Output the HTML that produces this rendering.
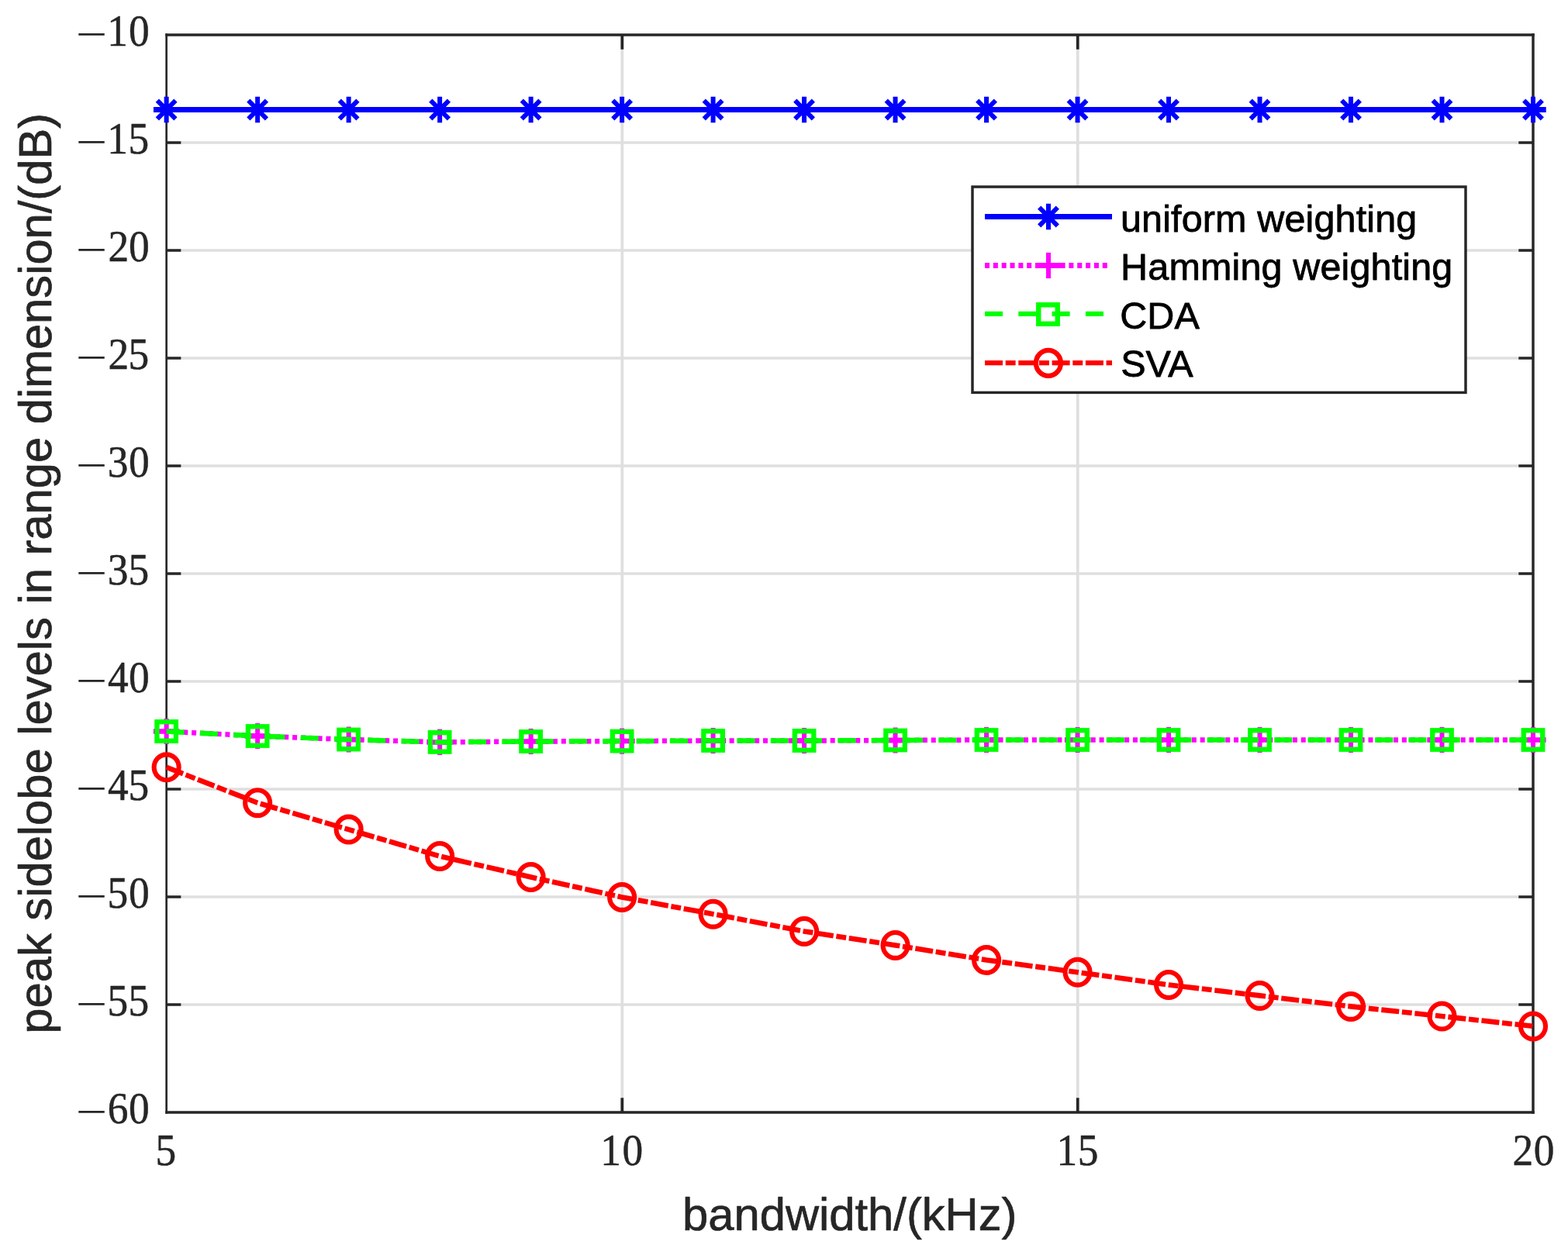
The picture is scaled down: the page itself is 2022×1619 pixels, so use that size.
<!DOCTYPE html>
<html lang="en"><head><meta charset="utf-8">
<style>
html,body{margin:0;padding:0;background:#fff;}
body{width:2022px;height:1619px;overflow:hidden;}
svg{display:block;}
.tk{font-family:"Liberation Serif","DejaVu Serif",serif;font-size:56.30px;fill:#262626;stroke:#262626;stroke-width:0.5px;stroke-linejoin:round;}
.mn{stroke-width:0;}
.lb{font-family:"Liberation Sans","DejaVu Sans",sans-serif;font-size:59.7px;fill:#262626;stroke:#262626;stroke-width:0.7px;stroke-linejoin:round;}
.lg{font-family:"Liberation Sans","DejaVu Sans",sans-serif;font-size:48.5px;fill:#000;stroke:#000;stroke-width:0.8px;stroke-linejoin:round;}
</style></head><body>
<svg width="2022" height="1619" viewBox="0 0 2022 1619" role="img">
<rect x="0" y="0" width="2022" height="1619" fill="#ffffff"/>
<g stroke="#dfdfdf" stroke-width="3.45" fill="none">
<line x1="802.30" y1="45.00" x2="802.30" y2="1435.00" stroke-width="3.75"/>
<line x1="1389.75" y1="45.00" x2="1389.75" y2="1435.00" stroke-width="3.75"/>
<line x1="214.65" y1="1296.00" x2="1977.00" y2="1296.00"/>
<line x1="214.65" y1="1157.00" x2="1977.00" y2="1157.00"/>
<line x1="214.65" y1="1018.00" x2="1977.00" y2="1018.00"/>
<line x1="214.65" y1="879.00" x2="1977.00" y2="879.00"/>
<line x1="214.65" y1="740.00" x2="1977.00" y2="740.00"/>
<line x1="214.65" y1="601.00" x2="1977.00" y2="601.00"/>
<line x1="214.65" y1="462.00" x2="1977.00" y2="462.00"/>
<line x1="214.65" y1="323.00" x2="1977.00" y2="323.00"/>
<line x1="214.65" y1="184.00" x2="1977.00" y2="184.00"/>
</g>
<g stroke="#262626" stroke-width="3.45" fill="none" stroke-linecap="butt" stroke-linejoin="miter">
<line x1="213.33" y1="45.00" x2="1978.72" y2="45.00"/>
<line x1="213.33" y1="1435.00" x2="1978.72" y2="1435.00"/>
<line x1="1977.00" y1="43.27" x2="1977.00" y2="1436.72"/>
<line x1="214.65" y1="43.27" x2="214.65" y2="1436.72" stroke-width="2.65"/>
<line x1="802.30" y1="1435.00" x2="802.30" y2="1416.30" stroke-width="3.75"/>
<line x1="802.30" y1="45.00" x2="802.30" y2="63.70" stroke-width="3.75"/>
<line x1="1389.75" y1="1435.00" x2="1389.75" y2="1416.30" stroke-width="3.75"/>
<line x1="1389.75" y1="45.00" x2="1389.75" y2="63.70" stroke-width="3.75"/>
<line x1="214.65" y1="1296.00" x2="233.35" y2="1296.00"/>
<line x1="1977.00" y1="1296.00" x2="1958.30" y2="1296.00"/>
<line x1="214.65" y1="1157.00" x2="233.35" y2="1157.00"/>
<line x1="1977.00" y1="1157.00" x2="1958.30" y2="1157.00"/>
<line x1="214.65" y1="1018.00" x2="233.35" y2="1018.00"/>
<line x1="1977.00" y1="1018.00" x2="1958.30" y2="1018.00"/>
<line x1="214.65" y1="879.00" x2="233.35" y2="879.00"/>
<line x1="1977.00" y1="879.00" x2="1958.30" y2="879.00"/>
<line x1="214.65" y1="740.00" x2="233.35" y2="740.00"/>
<line x1="1977.00" y1="740.00" x2="1958.30" y2="740.00"/>
<line x1="214.65" y1="601.00" x2="233.35" y2="601.00"/>
<line x1="1977.00" y1="601.00" x2="1958.30" y2="601.00"/>
<line x1="214.65" y1="462.00" x2="233.35" y2="462.00"/>
<line x1="1977.00" y1="462.00" x2="1958.30" y2="462.00"/>
<line x1="214.65" y1="323.00" x2="233.35" y2="323.00"/>
<line x1="1977.00" y1="323.00" x2="1958.30" y2="323.00"/>
<line x1="214.65" y1="184.00" x2="233.35" y2="184.00"/>
<line x1="1977.00" y1="184.00" x2="1958.30" y2="184.00"/>
</g>
<g fill="none" stroke="#0000ff">
<polyline points="214.65,141.50 332.14,141.50 449.63,141.50 567.12,141.50 684.61,141.50 802.10,141.50 919.59,141.50 1037.08,141.50 1154.57,141.50 1272.06,141.50 1389.55,141.50 1507.04,141.50 1624.53,141.50 1742.02,141.50 1859.51,141.50 1977.00,141.50" stroke-width="6.90"/>
<path stroke-width="6.90" d="M197.95 141.50H231.35M315.44 141.50H348.84M432.93 141.50H466.33M550.42 141.50H583.82M667.91 141.50H701.31M785.40 141.50H818.80M902.89 141.50H936.29M1020.38 141.50H1053.78M1137.87 141.50H1171.27M1255.36 141.50H1288.76M1372.85 141.50H1406.25M1490.34 141.50H1523.74M1607.83 141.50H1641.23M1725.32 141.50H1758.72M1842.81 141.50H1876.21M1960.30 141.50H1993.70"/>
<path stroke-width="6.00" d="M214.65 124.80V158.20M202.84 129.69L226.46 153.31M202.84 153.31L226.46 129.69M332.14 124.80V158.20M320.33 129.69L343.95 153.31M320.33 153.31L343.95 129.69M449.63 124.80V158.20M437.82 129.69L461.44 153.31M437.82 153.31L461.44 129.69M567.12 124.80V158.20M555.31 129.69L578.93 153.31M555.31 153.31L578.93 129.69M684.61 124.80V158.20M672.80 129.69L696.42 153.31M672.80 153.31L696.42 129.69M802.10 124.80V158.20M790.29 129.69L813.91 153.31M790.29 153.31L813.91 129.69M919.59 124.80V158.20M907.78 129.69L931.40 153.31M907.78 153.31L931.40 129.69M1037.08 124.80V158.20M1025.27 129.69L1048.89 153.31M1025.27 153.31L1048.89 129.69M1154.57 124.80V158.20M1142.76 129.69L1166.38 153.31M1142.76 153.31L1166.38 129.69M1272.06 124.80V158.20M1260.25 129.69L1283.87 153.31M1260.25 153.31L1283.87 129.69M1389.55 124.80V158.20M1377.74 129.69L1401.36 153.31M1377.74 153.31L1401.36 129.69M1507.04 124.80V158.20M1495.23 129.69L1518.85 153.31M1495.23 153.31L1518.85 129.69M1624.53 124.80V158.20M1612.72 129.69L1636.34 153.31M1612.72 153.31L1636.34 129.69M1742.02 124.80V158.20M1730.21 129.69L1753.83 153.31M1730.21 153.31L1753.83 129.69M1859.51 124.80V158.20M1847.70 129.69L1871.32 153.31M1847.70 153.31L1871.32 129.69M1977.00 124.80V158.20M1965.19 129.69L1988.81 153.31M1965.19 153.31L1988.81 129.69"/>
</g>
<g fill="none" stroke="#ff00ff">
<polyline points="214.65,943.50 332.14,949.50 449.63,954.00 567.12,957.40 684.61,956.50 802.10,956.10 919.59,955.50 1037.08,955.50 1154.57,955.00 1272.06,954.50 1389.55,954.50 1507.04,954.50 1624.53,954.50 1742.02,954.50 1859.51,954.50 1977.00,954.50" stroke-width="6.50" stroke-dasharray="6 4.84"/>
<path stroke-width="6.50" d="M198.05 943.50H231.25M315.54 949.50H348.74M433.03 954.00H466.23M550.52 957.40H583.72M668.01 956.50H701.21M785.50 956.10H818.70M902.99 955.50H936.19M1020.48 955.50H1053.68M1137.97 955.00H1171.17M1255.46 954.50H1288.66M1372.95 954.50H1406.15M1490.44 954.50H1523.64M1607.93 954.50H1641.13M1725.42 954.50H1758.62M1842.91 954.50H1876.11M1960.40 954.50H1993.60"/>
<path stroke-width="6.00" d="M214.65 926.90V960.10M332.14 932.90V966.10M449.63 937.40V970.60M567.12 940.80V974.00M684.61 939.90V973.10M802.10 939.50V972.70M919.59 938.90V972.10M1037.08 938.90V972.10M1154.57 938.40V971.60M1272.06 937.90V971.10M1389.55 937.90V971.10M1507.04 937.90V971.10M1624.53 937.90V971.10M1742.02 937.90V971.10M1859.51 937.90V971.10M1977.00 937.90V971.10"/>
</g>
<g fill="none" stroke="#00ff00">
<polyline points="214.65,943.50 332.14,949.50 449.63,954.00 567.12,957.40 684.61,956.50 802.10,956.10 919.59,955.50 1037.08,955.50 1154.57,955.00 1272.06,954.50 1389.55,954.50 1507.04,954.50 1624.53,954.50 1742.02,954.50 1859.51,954.50 1977.00,954.50" stroke-width="6.50" stroke-dasharray="23 20.3"/>
<rect x="202.40" y="931.25" width="24.50" height="24.50" stroke-width="6.30"/>
<rect x="319.89" y="937.25" width="24.50" height="24.50" stroke-width="6.30"/>
<rect x="437.38" y="941.75" width="24.50" height="24.50" stroke-width="6.30"/>
<rect x="554.87" y="945.15" width="24.50" height="24.50" stroke-width="6.30"/>
<rect x="672.36" y="944.25" width="24.50" height="24.50" stroke-width="6.30"/>
<rect x="789.85" y="943.85" width="24.50" height="24.50" stroke-width="6.30"/>
<rect x="907.34" y="943.25" width="24.50" height="24.50" stroke-width="6.30"/>
<rect x="1024.83" y="943.25" width="24.50" height="24.50" stroke-width="6.30"/>
<rect x="1142.32" y="942.75" width="24.50" height="24.50" stroke-width="6.30"/>
<rect x="1259.81" y="942.25" width="24.50" height="24.50" stroke-width="6.30"/>
<rect x="1377.30" y="942.25" width="24.50" height="24.50" stroke-width="6.30"/>
<rect x="1494.79" y="942.25" width="24.50" height="24.50" stroke-width="6.30"/>
<rect x="1612.28" y="942.25" width="24.50" height="24.50" stroke-width="6.30"/>
<rect x="1729.77" y="942.25" width="24.50" height="24.50" stroke-width="6.30"/>
<rect x="1847.26" y="942.25" width="24.50" height="24.50" stroke-width="6.30"/>
<rect x="1964.75" y="942.25" width="24.50" height="24.50" stroke-width="6.30"/>
</g>
<g fill="none" stroke="#ff0000">
<polyline points="214.65,989.80 332.14,1035.70 449.63,1070.10 567.12,1104.50 684.61,1131.50 802.10,1157.40 919.59,1179.20 1037.08,1201.40 1154.57,1219.40 1272.06,1238.40 1389.55,1254.20 1507.04,1270.50 1624.53,1284.40 1742.02,1298.40 1859.51,1311.00 1977.00,1323.90" stroke-width="6.60" stroke-dasharray="23 3.7 12.9 3.7"/>
<ellipse cx="214.65" cy="989.80" rx="16.00" ry="16.45" stroke-width="6.10"/>
<ellipse cx="332.14" cy="1035.70" rx="16.00" ry="16.45" stroke-width="6.10"/>
<ellipse cx="449.63" cy="1070.10" rx="16.00" ry="16.45" stroke-width="6.10"/>
<ellipse cx="567.12" cy="1104.50" rx="16.00" ry="16.45" stroke-width="6.10"/>
<ellipse cx="684.61" cy="1131.50" rx="16.00" ry="16.45" stroke-width="6.10"/>
<ellipse cx="802.10" cy="1157.40" rx="16.00" ry="16.45" stroke-width="6.10"/>
<ellipse cx="919.59" cy="1179.20" rx="16.00" ry="16.45" stroke-width="6.10"/>
<ellipse cx="1037.08" cy="1201.40" rx="16.00" ry="16.45" stroke-width="6.10"/>
<ellipse cx="1154.57" cy="1219.40" rx="16.00" ry="16.45" stroke-width="6.10"/>
<ellipse cx="1272.06" cy="1238.40" rx="16.00" ry="16.45" stroke-width="6.10"/>
<ellipse cx="1389.55" cy="1254.20" rx="16.00" ry="16.45" stroke-width="6.10"/>
<ellipse cx="1507.04" cy="1270.50" rx="16.00" ry="16.45" stroke-width="6.10"/>
<ellipse cx="1624.53" cy="1284.40" rx="16.00" ry="16.45" stroke-width="6.10"/>
<ellipse cx="1742.02" cy="1298.40" rx="16.00" ry="16.45" stroke-width="6.10"/>
<ellipse cx="1859.51" cy="1311.00" rx="16.00" ry="16.45" stroke-width="6.10"/>
<ellipse cx="1977.00" cy="1323.90" rx="16.00" ry="16.45" stroke-width="6.10"/>
</g>
<g>
<text class="tk"><tspan class="mn" x="97.73" y="62.90" textLength="40.48" lengthAdjust="spacingAndGlyphs">−</tspan><tspan x="138.37" y="59.10" textLength="26.69" lengthAdjust="spacingAndGlyphs">1</tspan><tspan x="166.06" y="59.10" textLength="26.69" lengthAdjust="spacingAndGlyphs">0</tspan></text>
<text class="tk"><tspan class="mn" x="97.73" y="201.90" textLength="40.48" lengthAdjust="spacingAndGlyphs">−</tspan><tspan x="138.37" y="198.10" textLength="26.69" lengthAdjust="spacingAndGlyphs">1</tspan><tspan x="165.55" y="198.10" textLength="26.69" lengthAdjust="spacingAndGlyphs">5</tspan></text>
<text class="tk"><tspan class="mn" x="97.73" y="340.90" textLength="40.48" lengthAdjust="spacingAndGlyphs">−</tspan><tspan x="139.41" y="337.10" textLength="26.69" lengthAdjust="spacingAndGlyphs">2</tspan><tspan x="166.06" y="337.10" textLength="26.69" lengthAdjust="spacingAndGlyphs">0</tspan></text>
<text class="tk"><tspan class="mn" x="97.73" y="479.90" textLength="40.48" lengthAdjust="spacingAndGlyphs">−</tspan><tspan x="139.41" y="476.10" textLength="26.69" lengthAdjust="spacingAndGlyphs">2</tspan><tspan x="165.55" y="476.10" textLength="26.69" lengthAdjust="spacingAndGlyphs">5</tspan></text>
<text class="tk"><tspan class="mn" x="97.73" y="618.90" textLength="40.48" lengthAdjust="spacingAndGlyphs">−</tspan><tspan x="138.87" y="615.10" textLength="26.69" lengthAdjust="spacingAndGlyphs">3</tspan><tspan x="166.06" y="615.10" textLength="26.69" lengthAdjust="spacingAndGlyphs">0</tspan></text>
<text class="tk"><tspan class="mn" x="97.73" y="757.90" textLength="40.48" lengthAdjust="spacingAndGlyphs">−</tspan><tspan x="138.87" y="754.10" textLength="26.69" lengthAdjust="spacingAndGlyphs">3</tspan><tspan x="165.55" y="754.10" textLength="26.69" lengthAdjust="spacingAndGlyphs">5</tspan></text>
<text class="tk"><tspan class="mn" x="97.73" y="896.90" textLength="40.48" lengthAdjust="spacingAndGlyphs">−</tspan><tspan x="139.00" y="893.10" textLength="26.69" lengthAdjust="spacingAndGlyphs">4</tspan><tspan x="166.06" y="893.10" textLength="26.69" lengthAdjust="spacingAndGlyphs">0</tspan></text>
<text class="tk"><tspan class="mn" x="97.73" y="1035.90" textLength="40.48" lengthAdjust="spacingAndGlyphs">−</tspan><tspan x="139.00" y="1032.10" textLength="26.69" lengthAdjust="spacingAndGlyphs">4</tspan><tspan x="165.55" y="1032.10" textLength="26.69" lengthAdjust="spacingAndGlyphs">5</tspan></text>
<text class="tk"><tspan class="mn" x="97.73" y="1174.90" textLength="40.48" lengthAdjust="spacingAndGlyphs">−</tspan><tspan x="138.60" y="1171.10" textLength="26.69" lengthAdjust="spacingAndGlyphs">5</tspan><tspan x="166.06" y="1171.10" textLength="26.69" lengthAdjust="spacingAndGlyphs">0</tspan></text>
<text class="tk"><tspan class="mn" x="97.73" y="1313.90" textLength="40.48" lengthAdjust="spacingAndGlyphs">−</tspan><tspan x="138.60" y="1310.10" textLength="26.69" lengthAdjust="spacingAndGlyphs">5</tspan><tspan x="165.55" y="1310.10" textLength="26.69" lengthAdjust="spacingAndGlyphs">5</tspan></text>
<text class="tk"><tspan class="mn" x="97.73" y="1452.90" textLength="40.48" lengthAdjust="spacingAndGlyphs">−</tspan><tspan x="138.75" y="1449.10" textLength="26.69" lengthAdjust="spacingAndGlyphs">6</tspan><tspan x="166.06" y="1449.10" textLength="26.69" lengthAdjust="spacingAndGlyphs">0</tspan></text>
<text class="tk"><tspan x="200.55" y="1503.00" textLength="26.69" lengthAdjust="spacingAndGlyphs">5</tspan></text>
<text class="tk"><tspan x="774.32" y="1503.00" textLength="26.69" lengthAdjust="spacingAndGlyphs">1</tspan><tspan x="802.56" y="1503.00" textLength="26.69" lengthAdjust="spacingAndGlyphs">0</tspan></text>
<text class="tk"><tspan x="1362.42" y="1503.00" textLength="26.69" lengthAdjust="spacingAndGlyphs">1</tspan><tspan x="1389.65" y="1503.00" textLength="26.69" lengthAdjust="spacingAndGlyphs">5</tspan></text>
<text class="tk"><tspan x="1950.46" y="1503.00" textLength="26.69" lengthAdjust="spacingAndGlyphs">2</tspan><tspan x="1977.76" y="1503.00" textLength="26.69" lengthAdjust="spacingAndGlyphs">0</tspan></text>
</g>
<text class="lb" x="880.12" y="1586.90" textLength="431.34" lengthAdjust="spacing">bandwidth/(kHz)</text>
<text class="lb" transform="translate(66.00 1333.68) rotate(-90)" x="0" y="0">peak sidelobe levels in range dimension/(dB)</text>
<rect x="1254.00" y="241.00" width="636.00" height="265.40" fill="#ffffff" stroke="#262626" stroke-width="3.45"/>
<g fill="none">
<line x1="1270.00" y1="279.50" x2="1434.00" y2="279.50" stroke="#0000ff" stroke-width="6.90"/>
<path stroke="#0000ff" stroke-width="6.00" d="M1352.00 262.80V296.20M1340.19 267.69L1363.81 291.31M1340.19 291.31L1363.81 267.69"/>
<line x1="1270.00" y1="342.50" x2="1428.50" y2="342.50" stroke="#ff00ff" stroke-width="6.80" stroke-dasharray="6 4.84"/>
<path stroke="#ff00ff" stroke-width="6.80" d="M1335.40 342.50H1368.60"/>
<path stroke="#ff00ff" stroke-width="6.00" d="M1352.00 325.90V359.10"/>
<line x1="1270.00" y1="404.90" x2="1434.00" y2="404.90" stroke="#00ff00" stroke-width="6.10" stroke-dasharray="23 20.3"/>
<rect x="1339.25" y="393.25" width="24.50" height="24.50" stroke="#00ff00" stroke-width="6.40"/>
<line x1="1270.00" y1="468.10" x2="1434.00" y2="468.10" stroke="#ff0000" stroke-width="6.10" stroke-dasharray="23 3.7 12.9 3.7"/>
<ellipse cx="1351.90" cy="468.40" rx="16.00" ry="16.45" stroke="#ff0000" stroke-width="6.30"/>
</g>
<text class="lg" x="1444.89" y="298.80" textLength="382.41" lengthAdjust="spacing">uniform weighting</text>
<text class="lg" x="1445.12" y="361.00" textLength="428.21" lengthAdjust="spacing">Hamming weighting</text>
<text class="lg" x="1444.17" y="424.10" textLength="102.70" lengthAdjust="spacing">CDA</text>
<text class="lg" x="1445.16" y="486.30" textLength="93.45" lengthAdjust="spacing">SVA</text>
</svg>
</body></html>
